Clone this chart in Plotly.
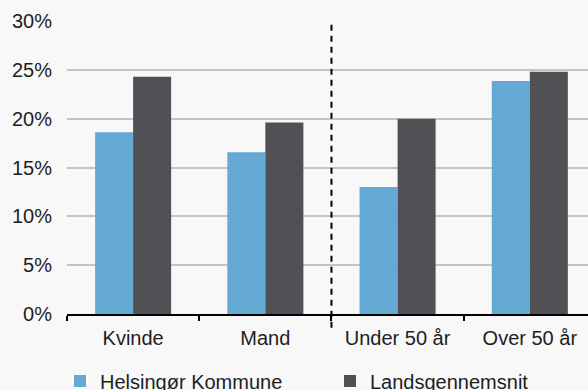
import plotly.graph_objects as go

# Andel i procent fordelt på køn og alder
categories = ["Kvinde", "Mand", "Under 50 år", "Over 50 år"]
helsingor = [18.6, 16.55, 13.0, 23.85]
landsgennemsnit = [24.3, 19.6, 20.0, 24.8]
y_ticks = [0, 5, 10, 15, 20, 25, 30]
y_labels = [f"{v}%" for v in y_ticks]

BLUE = "#63a9d4"
DARK = "#505055"
BG = "#f7f8f7"
TEXT = "#1e1e1e"
FONT = "Liberation Sans, Arial, sans-serif"
FS = 20

fig = go.Figure()
fig.add_trace(go.Bar(name="Helsingør Kommune", x=categories, y=helsingor,
                     marker=dict(color=BLUE, line=dict(width=0)), legend="legend"))
fig.add_trace(go.Bar(name="Landsgennemsnit", x=categories, y=landsgennemsnit,
                     marker=dict(color=DARK, line=dict(width=0)), legend="legend2"))

# Stiplet skillelinje mellem køn og alder
fig.add_shape(type="line", xref="x", yref="paper", x0=1.5, x1=1.5,
              y0=-0.047, y1=1.003,
              line=dict(color="black", width=2, dash="6px,5px"))

legend_style = dict(orientation="h", yref="container", xref="container",
                    y=0.023, yanchor="middle", xanchor="left",
                    font=dict(family=FONT, size=FS, color=TEXT),
                    bgcolor="rgba(0,0,0,0)")

fig.update_layout(
    width=588, height=390,
    margin=dict(l=67, r=0, t=21, b=76),
    paper_bgcolor=BG, plot_bgcolor=BG,
    font=dict(family=FONT, size=FS, color=TEXT),
    barmode="group", bargap=0.425, bargroupgap=0,
    showlegend=True,
    legend=dict(x=60 / 588, **legend_style),
    legend2=dict(x=330 / 588, **legend_style),
)
fig.update_xaxes(range=[-0.5, 3.44], showline=True, linecolor="black", linewidth=2,
                 ticks="outside", tickson="boundaries", ticklen=5, tickwidth=2,
                 tickcolor="black", showgrid=False, zeroline=False,
                 ticklabelstandoff=5,
                 tickfont=dict(family=FONT, size=FS, color=TEXT))
fig.update_yaxes(range=[0, 30], tickvals=y_ticks, ticktext=y_labels,
                 showgrid=True, gridcolor="#c4c4c4", gridwidth=1.5,
                 zeroline=False, showline=False, ticks="", ticklabelstandoff=14,
                 tickfont=dict(family=FONT, size=FS, color=TEXT))

fig.write_html("out.html")
